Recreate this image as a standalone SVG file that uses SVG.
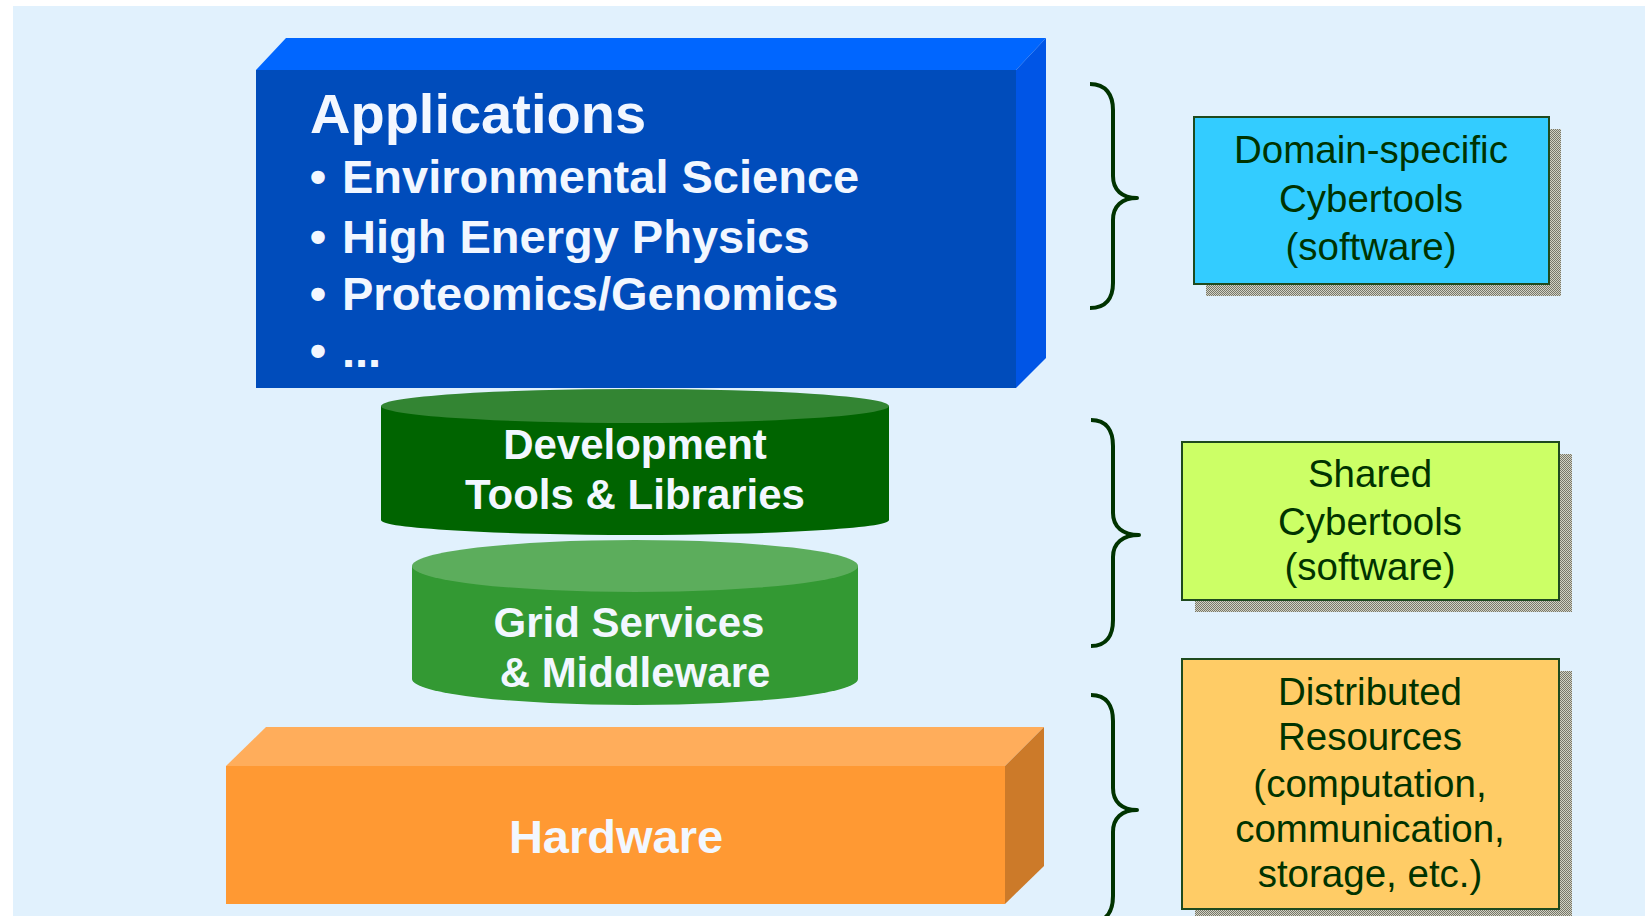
<svg xmlns="http://www.w3.org/2000/svg" width="1645" height="916" viewBox="0 0 1645 916">
<style>
.wt{font-family:"Liberation Sans",Arial,sans-serif;font-weight:bold;fill:#F2F7FF}
.lb{font-family:"Liberation Sans",Arial,sans-serif;font-size:38.5px;fill:#003300;text-anchor:middle}
.box{stroke:#1E4A1E;stroke-width:2}
.brace{fill:none;stroke:#003300;stroke-width:4;stroke-linejoin:round}
</style>
<defs>
<pattern id="dither" width="2" height="2" patternUnits="userSpaceOnUse">
<rect width="2" height="2" fill="#D2D2C4"/>
<rect width="1" height="1" fill="#77776A"/>
<rect x="1" y="1" width="1" height="1" fill="#77776A"/>
</pattern>
</defs>
<rect width="1645" height="916" fill="#FFFFFF"/>
<rect x="13" y="6" width="1632" height="910" fill="#E1F1FD"/>

<g id="dev-tools">
<path d="M381,406 L381,520 A254,15 0 0 0 889,520 L889,406 Z" fill="#006400"/>
<ellipse cx="635" cy="406" rx="254" ry="17" fill="#338533"/>
<text class="wt" font-size="42" text-anchor="middle" x="635" y="459">Development</text>
<text class="wt" font-size="42" text-anchor="middle" x="635" y="509">Tools &amp; Libraries</text>
</g>

<g id="applications">
<polygon points="256,70 286,38 1046,38 1016,70" fill="#0066FF"/>
<polygon points="1016,70 1046,38 1046,358 1016,388" fill="#0055E6"/>
<rect x="256" y="70" width="760" height="318" fill="#004CBB"/>
<text class="wt" font-size="56" x="310" y="133">Applications</text>
<text class="wt" font-size="47" text-anchor="middle" x="318" y="193">•</text>
<text class="wt" font-size="47" x="342" y="193">Environmental Science</text>
<text class="wt" font-size="47" text-anchor="middle" x="318" y="253">•</text>
<text class="wt" font-size="47" x="342" y="253">High Energy Physics</text>
<text class="wt" font-size="47" text-anchor="middle" x="318" y="310">•</text>
<text class="wt" font-size="47" x="342" y="310">Proteomics/Genomics</text>
<text class="wt" font-size="47" text-anchor="middle" x="318" y="367">•</text>
<text class="wt" font-size="47" x="342" y="367">...</text>
</g>

<g id="grid-services">
<path d="M412,566 L412,679 A223,26 0 0 0 858,679 L858,566 Z" fill="#339933"/>
<ellipse cx="635" cy="566" rx="223" ry="26" fill="#5CAD5C"/>
<text class="wt" font-size="42" text-anchor="middle" x="629" y="637">Grid Services</text>
<text class="wt" font-size="42" text-anchor="middle" x="635" y="687">&amp; Middleware</text>
</g>

<g id="hardware">
<polygon points="226,766 266,727 1044,727 1005,766" fill="#FFAD5B"/>
<polygon points="1005,766 1044,727 1044,866 1005,904" fill="#CC7A29"/>
<rect x="226" y="766" width="779" height="138" fill="#FF9933"/>
<text class="wt" font-size="47" text-anchor="middle" x="616" y="853">Hardware</text>
</g>

<g id="connectors">
<path class="brace" d="M1090,84 C1106,84 1113,95 1113,110 L1113,176 C1113,190 1122,198 1137,198 C1122,198 1113,206 1113,220 L1113,283 C1113,298 1106,308 1090,308"/>
<path class="brace" d="M1091,420 C1107,420 1113,431 1113,446 L1113,513 C1113,527 1123,535 1139,535 C1123,535 1113,543 1113,557 L1113,620 C1113,635 1107,646 1091,646"/>
<path class="brace" d="M1091,695 C1107,695 1113,706 1113,721 L1113,788 C1113,802 1122,810 1137,810 C1122,810 1113,818 1113,832 L1113,896 C1113,911 1107,922 1091,922"/>
</g>

<g id="domain-specific">
<rect x="1206" y="129" width="355" height="167" fill="url(#dither)"/>
<rect class="box" x="1194" y="117" width="355" height="167" fill="#33CCFF"/>
<text class="lb" x="1371" y="163">Domain-specific</text>
<text class="lb" x="1371" y="212">Cybertools</text>
<text class="lb" x="1371" y="260">(software)</text>
</g>

<g id="shared">
<rect x="1195" y="454" width="377" height="158" fill="url(#dither)"/>
<rect class="box" x="1182" y="442" width="377" height="158" fill="#CCFF66"/>
<text class="lb" x="1370" y="487">Shared</text>
<text class="lb" x="1370" y="535">Cybertools</text>
<text class="lb" x="1370" y="580">(software)</text>
</g>

<g id="distributed">
<rect x="1195" y="671" width="377" height="250" fill="url(#dither)"/>
<rect class="box" x="1182" y="659" width="377" height="250" fill="#FFCC66"/>
<text class="lb" x="1370" y="705">Distributed</text>
<text class="lb" x="1370" y="750">Resources</text>
<text class="lb" x="1370" y="797">(computation,</text>
<text class="lb" x="1370" y="842">communication,</text>
<text class="lb" x="1370" y="887">storage, etc.)</text>
</g>
</svg>
